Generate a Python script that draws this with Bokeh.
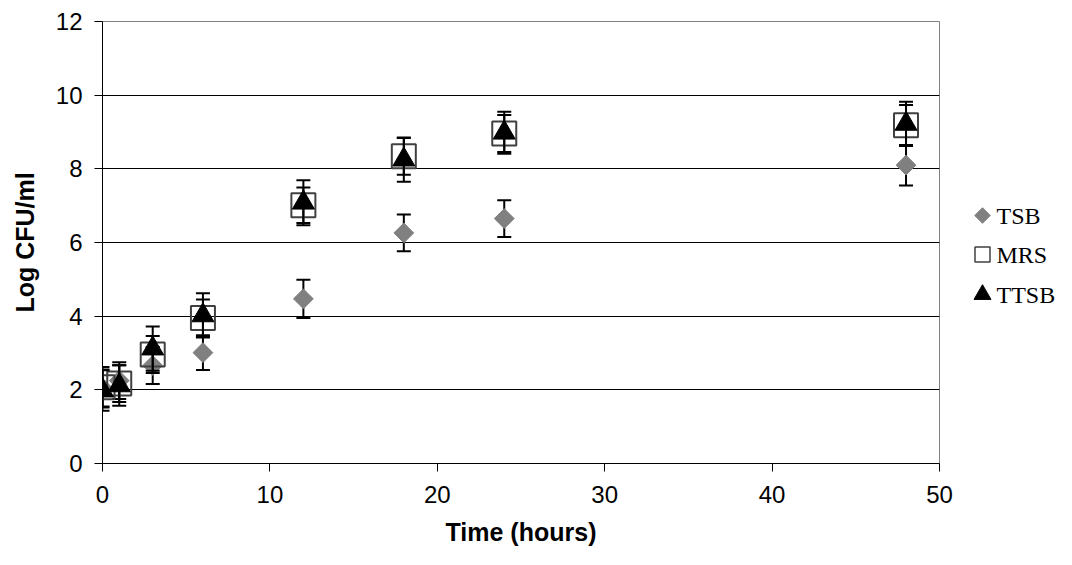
from bokeh.plotting import figure
from bokeh.models import Range1d, FixedTicker
from bokeh.layouts import row
from bokeh.core.properties import value
from bokeh.embed import file_html
from bokeh.resources import INLINE
import math

# ---- data ----
time_h = [0, 1, 3, 6, 12, 18, 24, 48]
tsb = [2.05, 2.25, 2.66, 3.01, 4.47, 6.26, 6.65, 8.10]
tsb_err = [0.50, 0.50, 0.50, 0.47, 0.52, 0.50, 0.50, 0.55]
mrs = [2.07, 2.17, 2.96, 3.95, 7.01, 8.34, 8.96, 9.18]
mrs_err = [0.55, 0.50, 0.50, 0.50, 0.48, 0.50, 0.50, 0.55]
ttsb = [1.98, 2.12, 3.12, 4.02, 7.08, 8.25, 8.98, 9.22]
ttsb_err = [0.55, 0.55, 0.60, 0.60, 0.61, 0.60, 0.57, 0.60]
series_names = ["TSB", "MRS", "TTSB"]
x_ticks = [0, 10, 20, 30, 40, 50]
y_ticks = [0, 2, 4, 6, 8, 10, 12]

H = 549
MW = 960
LW = 96
FRAME_TOP, FRAME_BOTTOM = 21, 463
p = figure(width=MW, height=H, output_backend="svg", toolbar_location=None,
           x_range=Range1d(0, 50), y_range=Range1d(0, 12),
           min_border_left=102, min_border_right=MW - 939,
           min_border_top=FRAME_TOP, min_border_bottom=H - FRAME_BOTTOM)
p.background_fill_color = "white"
p.border_fill_color = "white"
p.outline_line_color = "#808080"
p.outline_line_width = 1

p.xgrid.visible = False
p.ygrid.ticker = FixedTicker(ticks=y_ticks)
p.ygrid.grid_line_color = "black"
p.ygrid.grid_line_width = 1

for ax in (p.xaxis[0], p.yaxis[0]):
    ax.axis_line_color = "black"
    ax.axis_line_width = 1
    ax.major_tick_line_color = "black"
    ax.major_tick_in = 0
    ax.major_tick_out = 8
    ax.minor_tick_line_color = None
    ax.major_label_text_font = "Liberation Sans"
    ax.major_label_text_font_size = "24px"
    ax.major_label_text_color = "black"
    ax.axis_label_text_font = "Liberation Sans"
    ax.axis_label_text_font_size = "25px"
    ax.axis_label_text_font_style = "bold"
    ax.axis_label_text_color = "black"

p.xaxis[0].ticker = FixedTicker(ticks=x_ticks)
p.yaxis[0].ticker = FixedTicker(ticks=y_ticks)
p.xaxis[0].axis_label = "Time (hours)"
p.yaxis[0].axis_label = "Log CFU/ml"
p.xaxis[0].major_label_standoff = 14
p.yaxis[0].major_label_standoff = 12
p.xaxis[0].axis_label_standoff = 12
p.yaxis[0].axis_label_standoff = 14


def errbars(y, e):
    up = [a + b for a, b in zip(y, e)]
    lo = [a - b for a, b in zip(y, e)]
    p.segment(x0=time_h, y0=lo, x1=time_h, y1=up, line_color="black", line_width=2)
    p.scatter(x=time_h, y=up, marker="dash", size=14, line_color="black", line_width=2)
    p.scatter(x=time_h, y=lo, marker="dash", size=14, line_color="black", line_width=2)


errbars(tsb, tsb_err)
p.scatter(x=time_h, y=tsb, marker="square", size=14, angle=math.pi / 4,
          fill_color="#808080", line_color="#808080")
errbars(mrs, mrs_err)
p.scatter(x=time_h, y=mrs, marker="square", size=24, fill_color=None,
          line_color="#404040", line_width=2)
errbars(ttsb, ttsb_err)
p.scatter(x=time_h, y=ttsb, marker="triangle", size=22,
          fill_color="black", line_color="black")

# ---- legend panel (separate figure; its frame is aligned with the main frame) ----
lg = figure(width=LW, height=H, output_backend="svg", toolbar_location=None,
            x_range=Range1d(0, LW), y_range=Range1d(H - FRAME_BOTTOM, H - FRAME_TOP),
            x_axis_location=None, y_axis_location=None,
            min_border=0, min_border_left=0, min_border_right=0,
            min_border_top=FRAME_TOP, min_border_bottom=H - FRAME_BOTTOM)
lg.grid.visible = False
lg.outline_line_color = None
lg.background_fill_color = "white"
lg.border_fill_color = "white"
row_y = [H - 215, H - 254, H - 294]
mk_x = 22
tx_x = 36
lg.scatter(x=[mk_x], y=[row_y[0]], marker="square", size=11, angle=math.pi / 4,
           fill_color="#808080", line_color="#808080")
lg.scatter(x=[mk_x], y=[row_y[1]], marker="square", size=15, fill_color=None,
           line_color="#404040", line_width=1.5)
lg.scatter(x=[mk_x], y=[row_y[2]], marker="triangle", size=17,
           fill_color="black", line_color="black")
lg.text(x=[tx_x] * 3, y=row_y, text=series_names, text_font=value("Liberation Serif"),
        text_font_size="24px", text_color="black", text_baseline="middle", text_align="left")

layout = row(p, lg)
open("out.html", "w").write(file_html(layout, INLINE))
